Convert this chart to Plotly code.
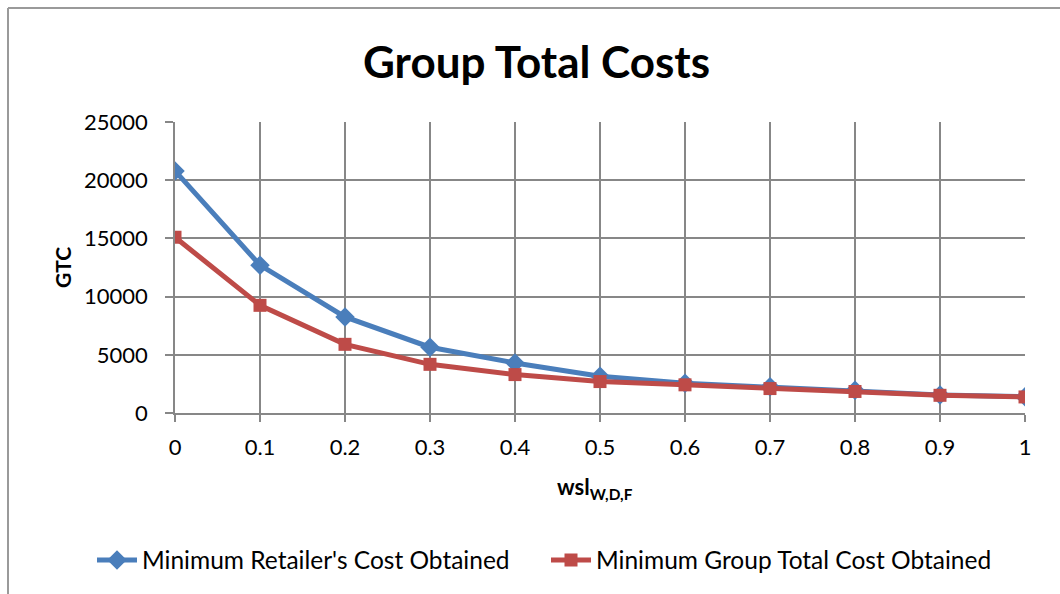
import plotly.graph_objects as go

# wsl_{W,D,F} service-level weights on the x axis
wsl = [0, 0.1, 0.2, 0.3, 0.4, 0.5, 0.6, 0.7, 0.8, 0.9, 1.0]

# Group total cost under the two optimisation targets
retailer_min = [20800, 12700, 8250, 5650, 4300, 3150, 2550, 2250, 1950, 1550, 1400]
group_min = [15100, 9250, 5900, 4180, 3300, 2700, 2420, 2100, 1850, 1520, 1380]

series_names = ["Minimum Retailer's Cost Obtained", "Minimum Group Total Cost Obtained"]

BLUE = "#4A7EBB"
RED = "#BE4B48"
GRID = "#878787"
FONT = "Lato"

fig = go.Figure()
fig.add_trace(go.Scatter(
    x=wsl, y=retailer_min, name=series_names[0], mode="lines+markers",
    line=dict(color=BLUE, width=5),
    marker=dict(symbol="diamond", size=15, color=BLUE),
    legend="legend",
))
fig.add_trace(go.Scatter(
    x=wsl, y=group_min, name=series_names[1], mode="lines+markers",
    line=dict(color=RED, width=5),
    marker=dict(symbol="square", size=13, color=RED),
    legend="legend2",
))

W, H = 1060, 594
L, R, T, B = 175, 35, 122, 181
pw, ph = W - L - R, H - T - B


def px_x(p):
    return (p - L) / pw


def px_y(p):
    return (H - B - p) / ph


def legend_box(left_px):
    # one single-entry legend per series, side by side along the bottom
    return dict(
        orientation="h", xref="container", yref="container",
        x=left_px / W, y=1 - 560 / H, xanchor="left", yanchor="middle",
        font=dict(size=24.5), itemwidth=40,
        bgcolor="rgba(0,0,0,0)",
    )


fig.update_layout(
    width=W, height=H,
    margin=dict(l=L, r=R, t=T, b=B),
    paper_bgcolor="white", plot_bgcolor="white",
    font=dict(family=FONT, size=22, color="black"),
    showlegend=True,
    legend=legend_box(92),
    legend2=legend_box(546),
    xaxis=dict(
        range=[0, 1], dtick=0.1, tick0=0,
        showgrid=True, gridcolor=GRID, gridwidth=1.5,
        showline=True, linecolor=GRID, linewidth=1.5,
        ticks="outside", ticklen=7, tickcolor=GRID, tickwidth=1.5,
        tickfont=dict(size=22), zeroline=False, ticklabelstandoff=7,
    ),
    yaxis=dict(
        range=[0, 25000], dtick=5000, tick0=0, tickformat="d",
        showgrid=True, gridcolor=GRID, gridwidth=1.5,
        showline=True, linecolor=GRID, linewidth=1.5,
        ticks="outside", ticklen=8, tickcolor=GRID, tickwidth=1.5,
        tickfont=dict(size=22), zeroline=False, ticklabelstandoff=13,
    ),
    shapes=[
        # outer chart-area border (left and top edges)
        dict(type="line", xref="paper", yref="paper",
             x0=px_x(8), x1=px_x(8), y0=px_y(8), y1=px_y(H + 10),
             line=dict(color="#9a9a9a", width=2)),
        dict(type="line", xref="paper", yref="paper",
             x0=px_x(8), x1=px_x(W + 10), y0=px_y(8), y1=px_y(8),
             line=dict(color="#9a9a9a", width=2)),
    ],
    annotations=[
        dict(text="<b>Group Total Costs</b>", xref="paper", yref="paper",
             x=px_x(536), y=px_y(61), xanchor="center", yanchor="middle",
             showarrow=False, font=dict(size=44, family=FONT)),
        dict(text="<b>GTC</b>", xref="paper", yref="paper",
             x=px_x(62), y=px_y(268), xanchor="center", yanchor="middle",
             textangle=-90, showarrow=False, font=dict(size=21, family=FONT)),
        dict(text="<b>wsl<sub>W,D,F</sub></b>", xref="paper", yref="paper",
             x=px_x(595), y=px_y(488), xanchor="center", yanchor="middle",
             showarrow=False, font=dict(size=22, family=FONT)),
    ],
)

fig.write_html("out.html")
